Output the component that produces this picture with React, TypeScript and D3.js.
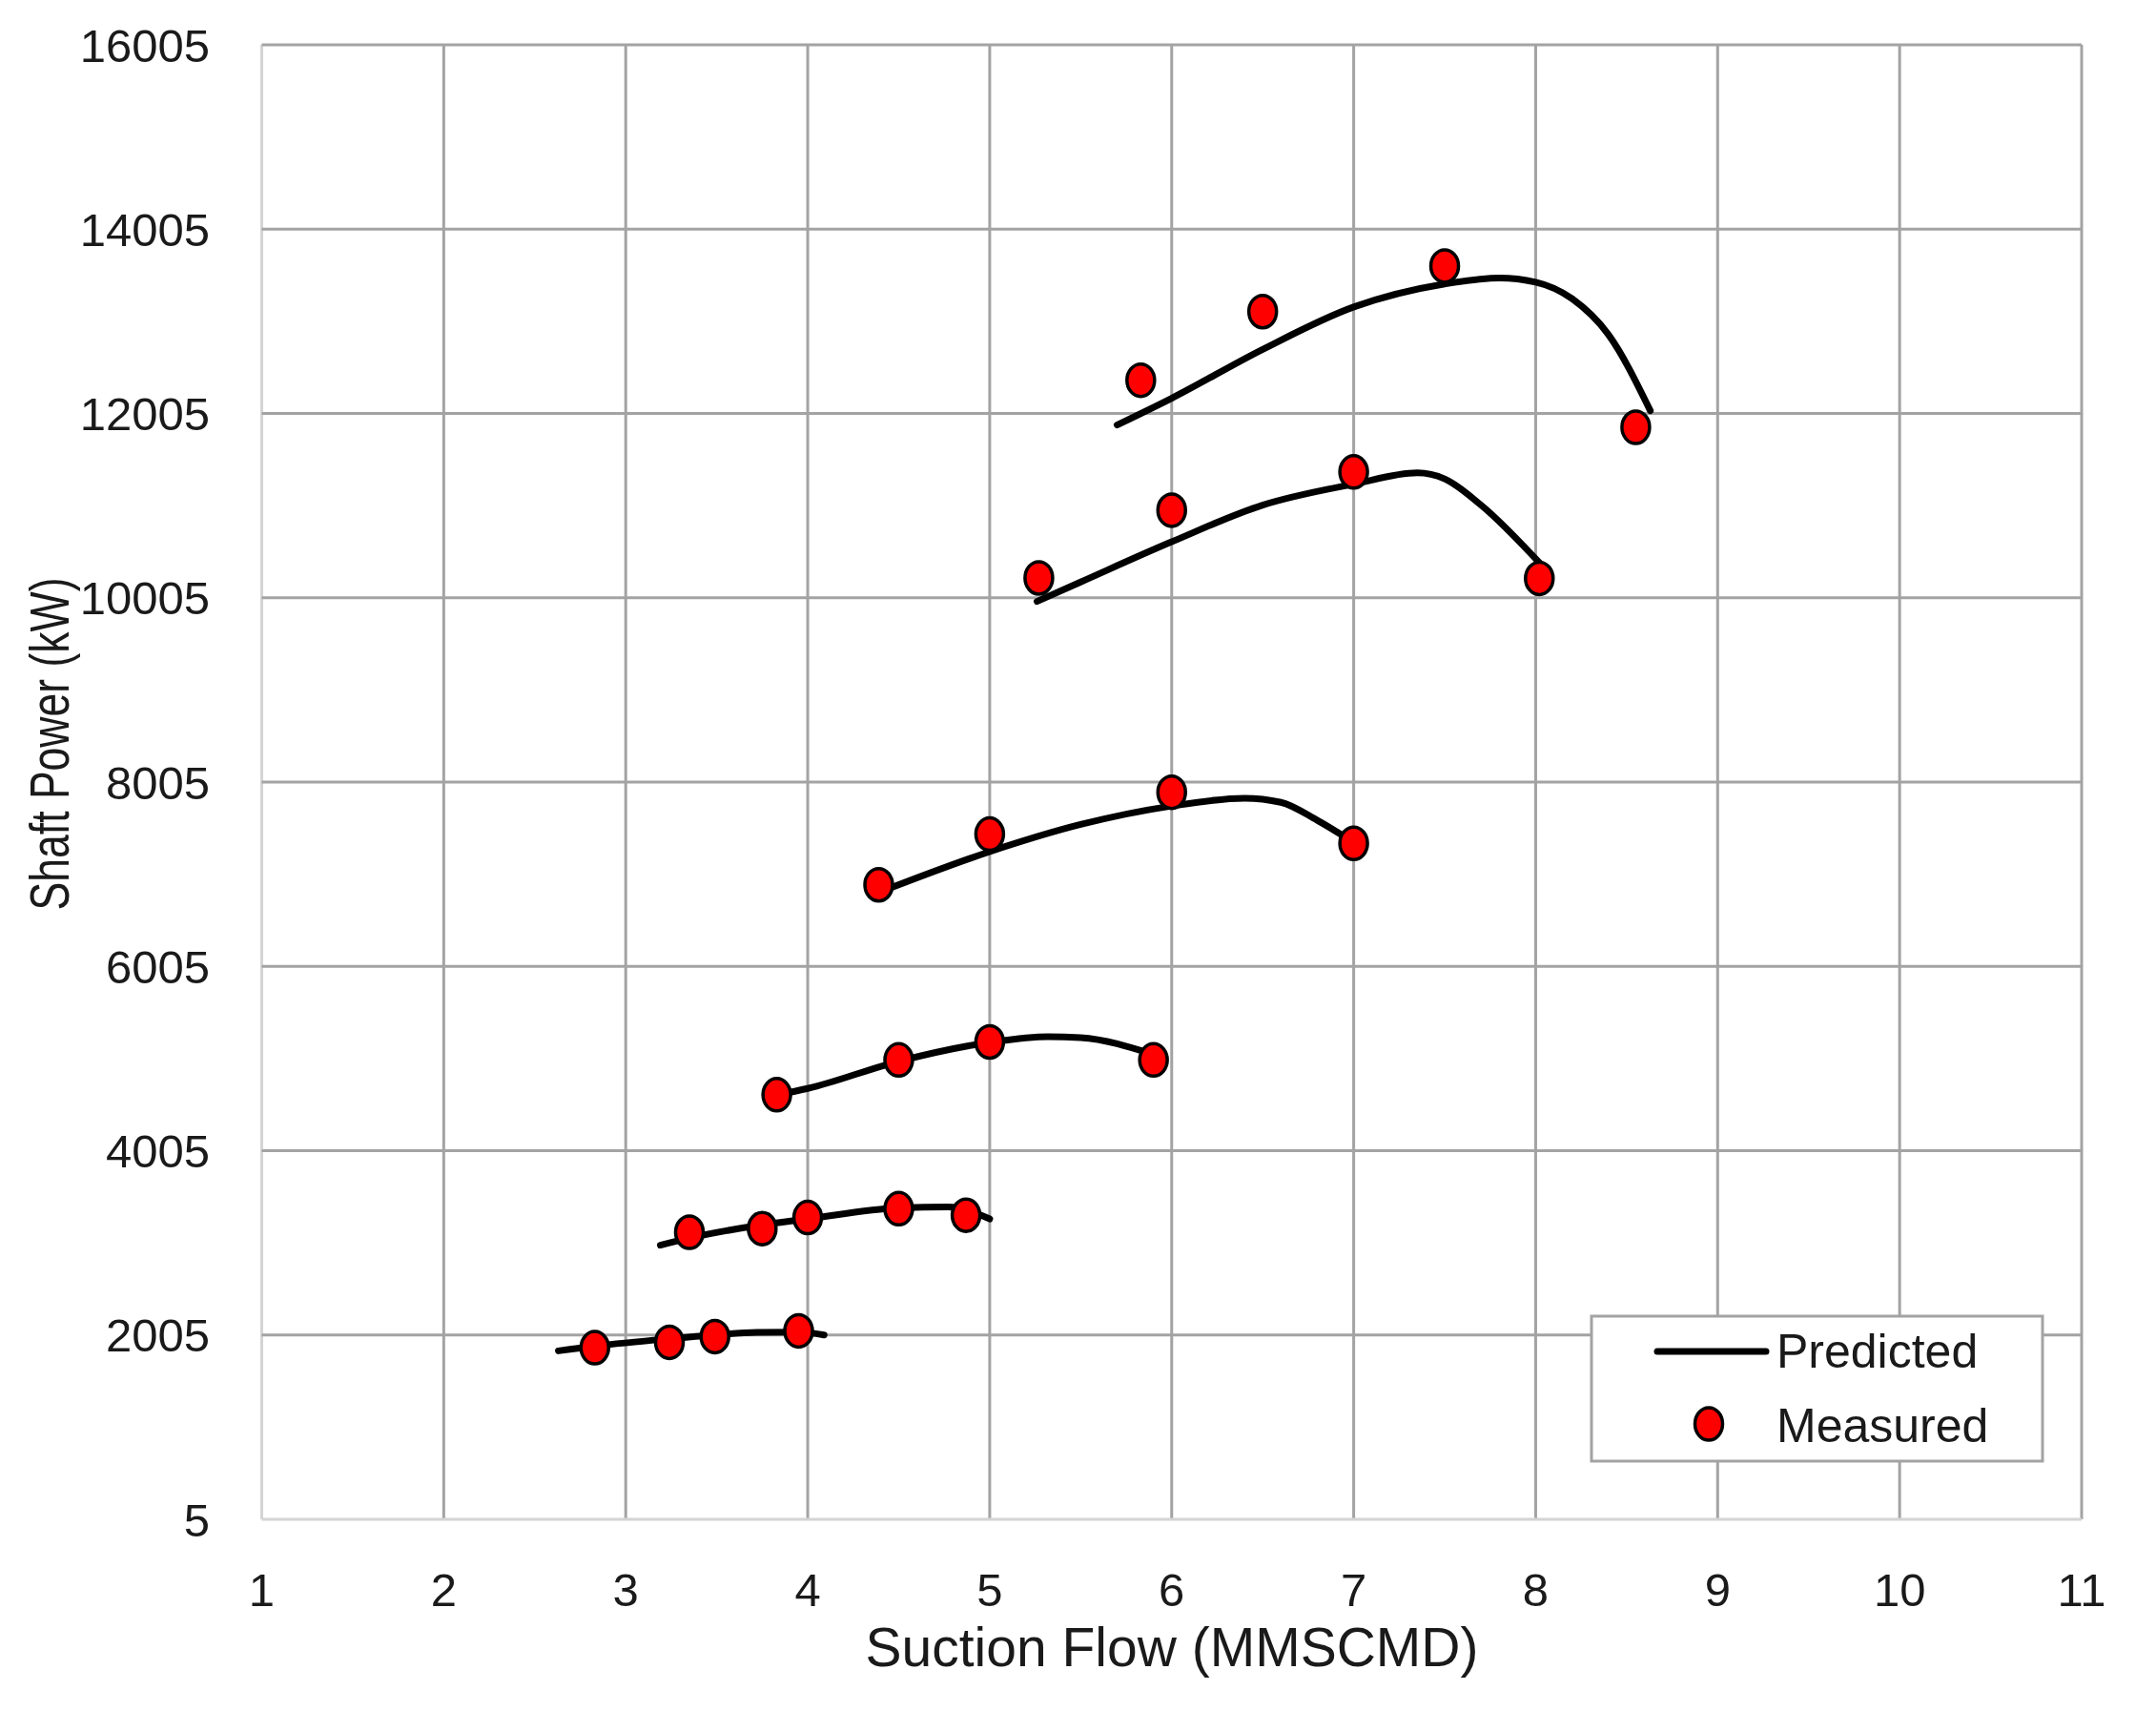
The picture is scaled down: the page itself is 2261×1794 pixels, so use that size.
import { scaleLinear, line, curveMonotoneX, range } from "d3";

// Shaft power vs suction flow, predicted curves + measured points

const WIDTH = 2261;
const HEIGHT = 1794;
const PLOT = { left: 274.5, right: 2183, top: 47, bottom: 1593 };
const FONT = "'Liberation Sans', Arial, sans-serif";

const xTicks = range(1, 12);
const yTicks = [5, 2005, 4005, 6005, 8005, 10005, 12005, 14005, 16005];

// predicted speed lines, [flow, power]
const predicted1: [number, number][] = [[5.7, 11880], [6.0, 12170], [6.5, 12700], [7.0, 13160], [7.5, 13410], [7.8, 13475], [8.0, 13430], [8.2, 13250], [8.4, 12860], [8.63, 12035]];
const predicted2: [number, number][] = [[5.26, 9965], [5.5, 10176], [6.0, 10612], [6.5, 11010], [7.0, 11238], [7.35, 11360], [7.5, 11295], [7.7, 11010], [8.03, 10365]];
const predicted3: [number, number][] = [[4.42, 6830], [5.0, 7250], [5.5, 7545], [6.0, 7745], [6.4, 7830], [6.6, 7785], [6.8, 7590], [6.98, 7375]];
const predicted4: [number, number][] = [[3.83, 4610], [4.0, 4680], [4.5, 4975], [5.0, 5180], [5.32, 5243], [5.5, 5232], [5.9, 5050]];
const predicted5: [number, number][] = [[3.19, 2980], [3.35, 3057], [3.75, 3200], [4.0, 3265], [4.5, 3384], [4.77, 3395], [5.0, 3265]];
const predicted6: [number, number][] = [[2.63, 1833], [2.83, 1884], [3.24, 1964], [3.49, 2005], [3.72, 2033], [3.95, 2035], [4.09, 2005]];

const measured1: [number, number][] = [[5.83, 12365], [6.5, 13110], [7.5, 13605], [8.55, 11855]];
const measured2: [number, number][] = [[5.27, 10220], [6.0, 10955], [7.0, 11370], [8.02, 10215]];
const measured3: [number, number][] = [[4.39, 6890], [5.0, 7440], [6.0, 7895], [7.0, 7340]];
const measured4: [number, number][] = [[3.83, 4612], [4.5, 4990], [5.0, 5185], [5.9, 4990]];
const measured5: [number, number][] = [[3.35, 3120], [3.75, 3160], [4.0, 3280], [4.5, 3375], [4.87, 3305]];
const measured6: [number, number][] = [[2.83, 1867], [3.24, 1926], [3.49, 1988], [3.95, 2050]];

const predicted = [predicted1, predicted2, predicted3, predicted4, predicted5, predicted6];
const measured = [measured1, measured2, measured3, measured4, measured5, measured6];

const App = () => {
  const xScale = scaleLinear().domain([1, 11]).range([PLOT.left, PLOT.right]);
  const yScale = scaleLinear().domain([5, 16005]).range([PLOT.bottom, PLOT.top]);

  const lineGen = line<[number, number]>()
    .x((d) => xScale(d[0]))
    .y((d) => yScale(d[1]))
    .curve(curveMonotoneX);

  return (
    <svg
      width={WIDTH}
      height={HEIGHT}
      style={{ position: "absolute", left: 0, top: 0, background: "#fff" }}
    >
      <rect width={WIDTH} height={HEIGHT} fill="#fff" />

      {/* grid */}
      {xTicks.map((t) => (
        <line
          key={"gx" + t}
          x1={xScale(t)}
          x2={xScale(t)}
          y1={PLOT.top}
          y2={PLOT.bottom}
          stroke={t === 1 ? "#d4d4d4" : "#a3a3a3"}
          strokeWidth={3}
        />
      ))}
      {yTicks.map((t) => (
        <line
          key={"gy" + t}
          x1={PLOT.left}
          x2={PLOT.right}
          y1={yScale(t)}
          y2={yScale(t)}
          stroke={t === 5 ? "#d4d4d4" : "#a3a3a3"}
          strokeWidth={3}
        />
      ))}

      {/* tick labels */}
      {yTicks.map((t) => (
        <text
          key={"ty" + t}
          x={220}
          y={yScale(t)}
          dy="0.36em"
          textAnchor="end"
          fontFamily={FONT}
          fontSize={49}
          fill="#1a1a1a"
        >
          {t}
        </text>
      ))}
      {xTicks.map((t) => (
        <text
          key={"tx" + t}
          x={xScale(t)}
          y={1684}
          textAnchor="middle"
          fontFamily={FONT}
          fontSize={49}
          fill="#1a1a1a"
        >
          {t}
        </text>
      ))}

      {/* axis titles */}
      <text
        x={1229}
        y={1747}
        textAnchor="middle"
        fontFamily={FONT}
        fontSize={57}
        fill="#1a1a1a"
      >
        Suction Flow (MMSCMD)
      </text>
      <text
        transform="translate(72,780) rotate(-90)"
        textAnchor="middle"
        fontFamily={FONT}
        fontSize={57}
        textLength={349}
        lengthAdjust="spacingAndGlyphs"
        fill="#1a1a1a"
      >
        Shaft Power  (kW)
      </text>

      {/* predicted */}
      {predicted.map((p, i) => (
        <path
          key={"p" + i}
          d={lineGen(p) || ""}
          fill="none"
          stroke="#000"
          strokeWidth={7}
          strokeLinecap="round"
        />
      ))}

      {/* measured */}
      {measured.map((m, i) =>
        m.map((d, j) => (
          <ellipse
            key={"m" + i + "-" + j}
            cx={xScale(d[0])}
            cy={yScale(d[1])}
            rx={14.5}
            ry={17}
            fill="#ff0000"
            stroke="#000"
            strokeWidth={3.5}
          />
        ))
      )}

      {/* legend */}
      <rect x={1669} y={1380} width={473} height={152} fill="#fff" stroke="#a3a3a3" strokeWidth={3} />
      <line x1={1738} x2={1852} y1={1417} y2={1417} stroke="#000" strokeWidth={7} strokeLinecap="round" />
      <text x={1863} y={1434} fontFamily={FONT} fontSize={50} fill="#1a1a1a">
        Predicted
      </text>
      <ellipse cx={1792} cy={1493} rx={14.5} ry={17} fill="#ff0000" stroke="#000" strokeWidth={3.5} />
      <text x={1863} y={1512} fontFamily={FONT} fontSize={50} fill="#1a1a1a">
        Measured
      </text>
    </svg>
  );
};

export default App;
